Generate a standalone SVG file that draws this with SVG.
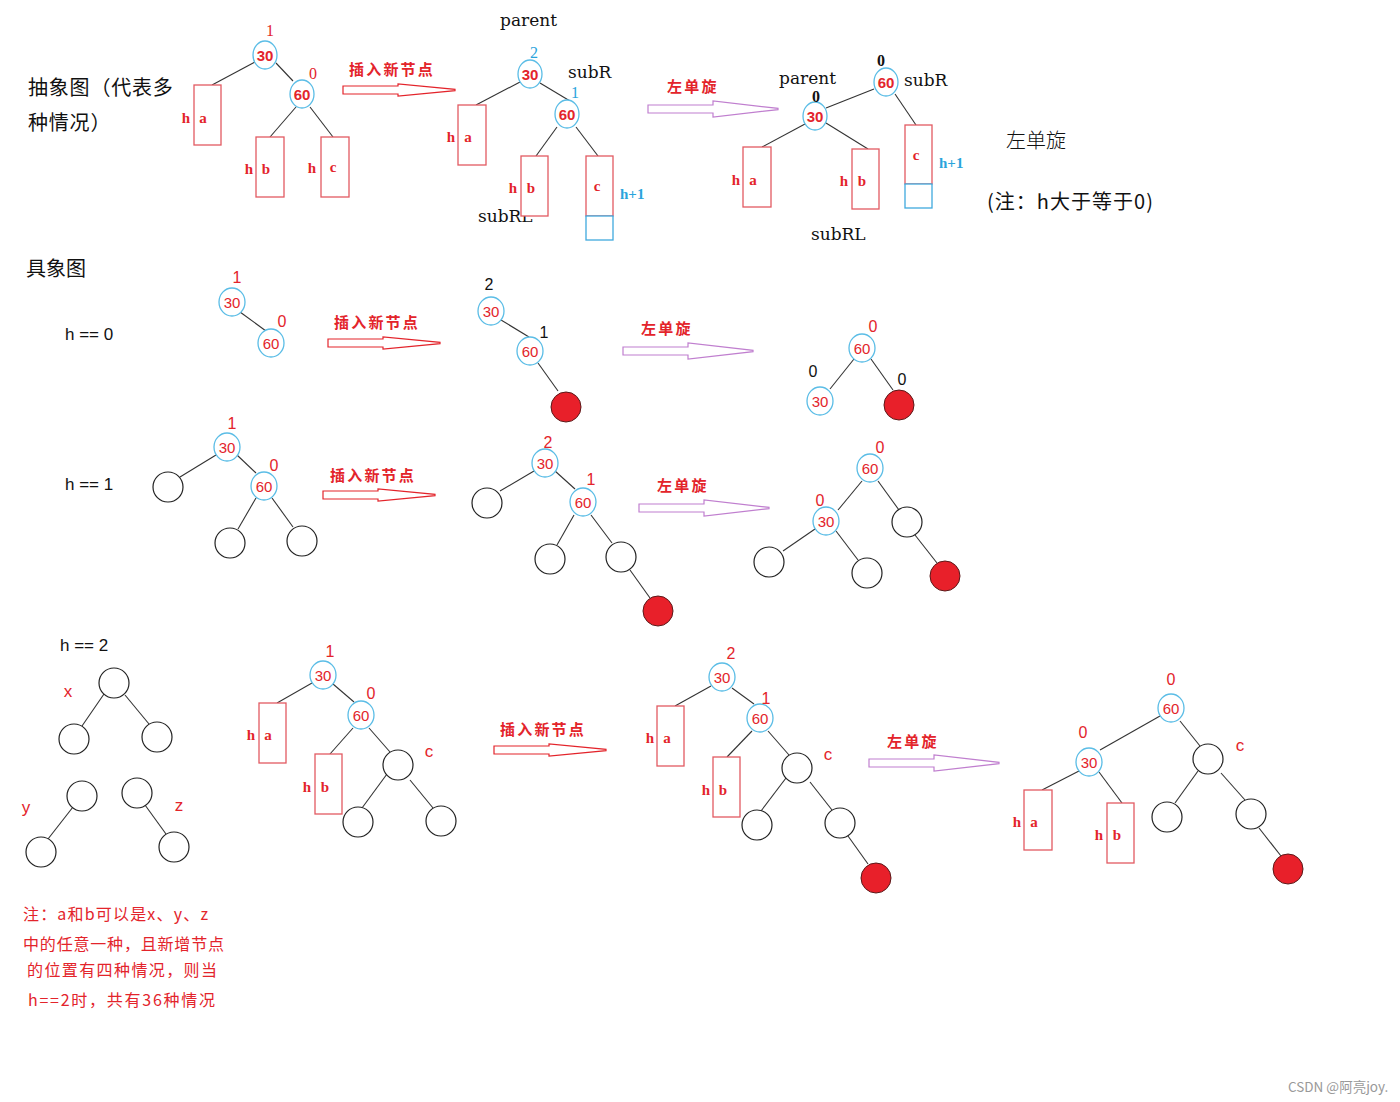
<svg xmlns="http://www.w3.org/2000/svg" width="1400" height="1102" viewBox="0 0 1400 1102">
<style>
.bg{fill:#ffffff}
.ln{stroke:#333;stroke-width:1.1;fill:none}
.bn{fill:#fff;stroke:#5bbde6;stroke-width:1.3}
.pc{fill:#fff;stroke:#222;stroke-width:1.2}
.rc{fill:#e8202a;stroke:#5a1a1a;stroke-width:1}
.bx{fill:#fff;stroke:#e25a62;stroke-width:1.3}
.bbx{fill:#fff;stroke:#3fa9dd;stroke-width:1.3}
.nt{font-family:"Liberation Sans",Arial,sans-serif;font-size:15px;fill:#e3242b;text-anchor:middle;dominant-baseline:central}
.ntb{font-family:"Liberation Sans",Arial,sans-serif;font-size:15px;font-weight:bold;fill:#e3242b;text-anchor:middle;dominant-baseline:central}
.bal{font-family:"Liberation Sans",Arial,sans-serif;font-size:16px;fill:#e3242b;text-anchor:middle;dominant-baseline:central}
.balk{font-family:"Liberation Sans",Arial,sans-serif;font-size:16px;fill:#111;text-anchor:middle;dominant-baseline:central}
.sbal{font-family:"Liberation Serif",serif;font-size:16px;fill:#e3242b;text-anchor:middle;dominant-baseline:central}
.sbalb{font-family:"Liberation Serif",serif;font-size:16px;fill:#2aa4dc;text-anchor:middle;dominant-baseline:central}
.sbalk{font-family:"Liberation Serif",serif;font-size:16px;font-weight:bold;fill:#111;text-anchor:middle;dominant-baseline:central}
.bl{font-family:"Liberation Serif",serif;font-size:15px;font-weight:bold;fill:#e3242b;text-anchor:middle;dominant-baseline:central}
.blb{font-family:"Liberation Serif",serif;font-size:15px;font-weight:bold;fill:#2aa4dc;dominant-baseline:central}
.nm{font-family:"DejaVu Serif","Liberation Serif",serif;font-size:17px;fill:#111}
.cn{font-family:"Noto Sans CJK SC","Noto Sans",sans-serif;font-size:20px;fill:#111}
.cnr{font-family:"Noto Sans CJK SC",sans-serif;font-size:15px;font-weight:bold;fill:#e3242b;letter-spacing:2.2px}
.nt2{font-family:"Noto Sans CJK SC","Liberation Sans",sans-serif;font-size:16px;fill:#e3242b}
.hh{font-family:"Liberation Sans",Arial,sans-serif;font-size:17px;fill:#111}
.lt{font-family:"Liberation Sans",Arial,sans-serif;font-size:17px;fill:#e3242b;text-anchor:middle;dominant-baseline:central}
.ra{fill:#fff;stroke:#e3242b;stroke-width:1.2}
.pa{fill:#fff;stroke:#c07fcf;stroke-width:1.2}
</style>
<defs>
<path id="redArrow" d="M0,-4 L55,-4 L55,-6 L112,-0.6 L112,0.6 L55,6 L55,4 L0,4 Z"/>
<path id="purpleArrow" d="M0,-4 L65,-4 L65,-8 L130,-0.6 L130,0.6 L65,8 L65,4 L0,4 Z"/>
</defs>
<rect class="bg" x="0" y="0" width="1400" height="1102"/>

<!-- ===== Connectors ===== -->
<g id="connectors">
  <line class="ln" x1="255" y1="62" x2="212" y2="85"/>
  <line class="ln" x1="276" y1="63" x2="293" y2="81"/>
  <line class="ln" x1="296" y1="107" x2="270" y2="137"/>
  <line class="ln" x1="310" y1="107" x2="333" y2="137"/>
  <line class="ln" x1="520" y1="82" x2="476" y2="105"/>
  <line class="ln" x1="540" y1="83" x2="570" y2="101"/>
  <line class="ln" x1="557" y1="127" x2="536" y2="156"/>
  <line class="ln" x1="576" y1="127" x2="598" y2="156"/>
  <line class="ln" x1="874" y1="89" x2="826" y2="108"/>
  <line class="ln" x1="805" y1="124" x2="762" y2="147"/>
  <line class="ln" x1="826" y1="123" x2="868" y2="149"/>
  <line class="ln" x1="895" y1="94" x2="916" y2="125"/>
  <line class="ln" x1="240" y1="312" x2="266" y2="331"/>
  <line class="ln" x1="501" y1="320" x2="529" y2="337"/>
  <line class="ln" x1="538" y1="363" x2="558" y2="391"/>
  <line class="ln" x1="854" y1="359" x2="830" y2="389"/>
  <line class="ln" x1="871" y1="359" x2="893" y2="390"/>
  <line class="ln" x1="216" y1="455" x2="180" y2="477"/>
  <line class="ln" x1="237" y1="455" x2="256" y2="473"/>
  <line class="ln" x1="256" y1="498" x2="238" y2="529"/>
  <line class="ln" x1="272" y1="498" x2="293" y2="527"/>
  <line class="ln" x1="534" y1="471" x2="500" y2="491"/>
  <line class="ln" x1="555" y1="471" x2="575" y2="489"/>
  <line class="ln" x1="574" y1="515" x2="557" y2="545"/>
  <line class="ln" x1="591" y1="515" x2="612" y2="543"/>
  <line class="ln" x1="630" y1="570" x2="650" y2="598"/>
  <line class="ln" x1="862" y1="481" x2="838" y2="510"/>
  <line class="ln" x1="878" y1="481" x2="899" y2="510"/>
  <line class="ln" x1="815" y1="529" x2="783" y2="551"/>
  <line class="ln" x1="836" y1="531" x2="858" y2="560"/>
  <line class="ln" x1="915" y1="535" x2="937" y2="563"/>
  <line class="ln" x1="104" y1="694" x2="82" y2="726"/>
  <line class="ln" x1="125" y1="695" x2="149" y2="724"/>
  <line class="ln" x1="73" y1="807" x2="48" y2="839"/>
  <line class="ln" x1="145" y1="805" x2="166" y2="834"/>
  <line class="ln" x1="312" y1="683" x2="277" y2="703"/>
  <line class="ln" x1="333" y1="684" x2="354" y2="702"/>
  <line class="ln" x1="353" y1="728" x2="330" y2="754"/>
  <line class="ln" x1="369" y1="728" x2="390" y2="752"/>
  <line class="ln" x1="387" y1="774" x2="362" y2="808"/>
  <line class="ln" x1="410" y1="780" x2="433" y2="808"/>
  <line class="ln" x1="711" y1="686" x2="675" y2="706"/>
  <line class="ln" x1="732" y1="688" x2="754" y2="704"/>
  <line class="ln" x1="752" y1="731" x2="727" y2="757"/>
  <line class="ln" x1="768" y1="731" x2="789" y2="755"/>
  <line class="ln" x1="786" y1="778" x2="761" y2="811"/>
  <line class="ln" x1="810" y1="782" x2="832" y2="810"/>
  <line class="ln" x1="848" y1="836" x2="868" y2="864"/>
  <line class="ln" x1="1160" y1="716" x2="1100" y2="750"/>
  <line class="ln" x1="1079" y1="771" x2="1042" y2="790"/>
  <line class="ln" x1="1099" y1="772" x2="1122" y2="803"/>
  <line class="ln" x1="1180" y1="721" x2="1200" y2="746"/>
  <line class="ln" x1="1198" y1="771" x2="1175" y2="803"/>
  <line class="ln" x1="1221" y1="773" x2="1245" y2="800"/>
  <line class="ln" x1="1259" y1="828" x2="1281" y2="856"/>
</g>

<!-- ===== Titles / notes ===== -->
<g id="titles">
  <text class="cn" x="28" y="95" style="letter-spacing:0.8px">抽象图（代表多</text>
  <text class="cn" x="28" y="130" style="letter-spacing:0.8px">种情况）</text>
  <text class="cn" x="26" y="276">具象图</text>
  <text class="hh" x="65" y="340">h == 0</text>
  <text class="hh" x="65" y="490">h == 1</text>
  <text class="hh" x="60" y="651">h == 2</text>
  <text x="1006" y="148" style="font-family:'Noto Sans CJK SC',sans-serif;font-size:20px;font-weight:300;fill:#111">左单旋</text>
  <text class="cn" x="987" y="209" textLength="166" lengthAdjust="spacing">(注：h大于等于0)</text>
  <text class="nt2" x="23" y="920" textLength="185" lengthAdjust="spacing">注：a和b可以是x、y、z</text>
  <text class="nt2" x="23" y="950" textLength="201" lengthAdjust="spacing">中的任意一种，且新增节点</text>
  <text class="nt2" x="27" y="976" textLength="190" lengthAdjust="spacing">的位置有四种情况，则当</text>
  <text class="nt2" x="28" y="1006" textLength="187" lengthAdjust="spacing">h==2时，共有36种情况</text>
  <text x="1288" y="1092" style="font-family:'Noto Sans CJK SC',sans-serif;font-size:13.5px;fill:#999">CSDN @阿亮joy.</text>
</g>

<!-- ===== Arrows ===== -->
<g id="arrows">
  <g id="arrow-top-insert"><use href="#redArrow" class="ra" transform="translate(343,90)"/><text class="cnr" x="349" y="75">插入新节点</text></g>
  <g id="arrow-top-rot"><use href="#purpleArrow" class="pa" transform="translate(648,109)"/><text class="cnr" x="667" y="92">左单旋</text></g>
  <g id="arrow-h0-insert"><use href="#redArrow" class="ra" transform="translate(328,343)"/><text class="cnr" x="334" y="328">插入新节点</text></g>
  <g id="arrow-h0-rot"><use href="#purpleArrow" class="pa" transform="translate(623,351)"/><text class="cnr" x="641" y="334">左单旋</text></g>
  <g id="arrow-h1-insert"><use href="#redArrow" class="ra" transform="translate(323,495)"/><text class="cnr" x="330" y="481">插入新节点</text></g>
  <g id="arrow-h1-rot"><use href="#purpleArrow" class="pa" transform="translate(639,508)"/><text class="cnr" x="657" y="491">左单旋</text></g>
  <g id="arrow-h2-insert"><use href="#redArrow" class="ra" transform="translate(494,750)"/><text class="cnr" x="500" y="735">插入新节点</text></g>
  <g id="arrow-h2-rot"><use href="#purpleArrow" class="pa" transform="translate(869,763)"/><text class="cnr" x="887" y="747">左单旋</text></g>
</g>

<!-- ===== Top abstract 1 ===== -->
<g id="abs1">
  <g id="abs1-n30"><ellipse class="bn" cx="265" cy="55" rx="12" ry="14"/><text class="ntb" x="265" y="55">30</text><text class="sbal" x="270" y="30">1</text></g>
  <g id="abs1-n60"><ellipse class="bn" cx="302" cy="94" rx="12" ry="14"/><text class="ntb" x="302" y="94">60</text><text class="sbal" x="313" y="73">0</text></g>
  <g id="abs1-a"><rect class="bx" x="194" y="85" width="27" height="60"/><text class="bl" x="186" y="118">h</text><text class="bl" x="203" y="118">a</text></g>
  <g id="abs1-b"><rect class="bx" x="256" y="137" width="28" height="60"/><text class="bl" x="249" y="169">h</text><text class="bl" x="266" y="169">b</text></g>
  <g id="abs1-c"><rect class="bx" x="321" y="137" width="28" height="60"/><text class="bl" x="312" y="168">h</text><text class="bl" x="333" y="167">c</text></g>
</g>

<!-- ===== Top abstract 2 ===== -->
<g id="abs2">
  <text class="nm" x="500" y="26">parent</text>
  <text class="nm" x="568" y="78">subR</text>
  <text class="nm" x="478" y="222">subRL</text>
  <g id="abs2-n30"><ellipse class="bn" cx="530" cy="74" rx="12" ry="14"/><text class="ntb" x="530" y="74">30</text><text class="sbalb" x="534" y="52">2</text></g>
  <g id="abs2-n60"><ellipse class="bn" cx="567" cy="114" rx="12" ry="14"/><text class="ntb" x="567" y="114">60</text><text class="sbalb" x="575" y="92">1</text></g>
  <g id="abs2-a"><rect class="bx" x="458" y="105" width="28" height="60"/><text class="bl" x="451" y="137">h</text><text class="bl" x="468" y="137">a</text></g>
  <g id="abs2-b"><rect class="bx" x="521" y="156" width="27" height="60"/><text class="bl" x="513" y="188">h</text><text class="bl" x="531" y="188">b</text></g>
  <g id="abs2-c"><rect class="bx" x="586" y="156" width="27" height="60"/><rect class="bbx" x="586" y="216" width="27" height="24"/><text class="bl" x="597" y="186">c</text><text class="blb" x="620" y="194">h+1</text></g>
</g>

<!-- ===== Top abstract 3 ===== -->
<g id="abs3">
  <text class="nm" x="779" y="84">parent</text>
  <text class="nm" x="904" y="86">subR</text>
  <text class="nm" x="811" y="240">subRL</text>
  <g id="abs3-n60"><ellipse class="bn" cx="886" cy="82" rx="12" ry="14"/><text class="ntb" x="886" y="82">60</text><text class="sbalk" x="881" y="60">0</text></g>
  <g id="abs3-n30"><ellipse class="bn" cx="815" cy="116" rx="12" ry="14"/><text class="ntb" x="815" y="116">30</text><text class="sbalk" x="816" y="96">0</text></g>
  <g id="abs3-a"><rect class="bx" x="743" y="147" width="28" height="60"/><text class="bl" x="736" y="180">h</text><text class="bl" x="753" y="180">a</text></g>
  <g id="abs3-b"><rect class="bx" x="852" y="149" width="27" height="60"/><text class="bl" x="844" y="181">h</text><text class="bl" x="862" y="181">b</text></g>
  <g id="abs3-c"><rect class="bx" x="905" y="125" width="27" height="59"/><rect class="bbx" x="905" y="184" width="27" height="24"/><text class="bl" x="916" y="155">c</text><text class="blb" x="939" y="163">h+1</text></g>
</g>

<!-- ===== h == 0 ===== -->
<g id="h0">
  <g id="h0a-n30"><ellipse class="bn" cx="232" cy="302" rx="13" ry="14"/><text class="nt" x="232" y="302">30</text><text class="bal" x="237" y="277">1</text></g>
  <g id="h0a-n60"><ellipse class="bn" cx="271" cy="343" rx="13" ry="14"/><text class="nt" x="271" y="343">60</text><text class="bal" x="282" y="321">0</text></g>
  <g id="h0b-n30"><ellipse class="bn" cx="491" cy="311" rx="13" ry="14"/><text class="nt" x="491" y="311">30</text><text class="balk" x="489" y="284">2</text></g>
  <g id="h0b-n60"><ellipse class="bn" cx="530" cy="351" rx="13" ry="14"/><text class="nt" x="530" y="351">60</text><text class="balk" x="544" y="332">1</text></g>
  <g id="h0b-new"><circle class="rc" cx="566" cy="407" r="15"/></g>
  <g id="h0c-n60"><ellipse class="bn" cx="862" cy="348" rx="13" ry="14"/><text class="nt" x="862" y="348">60</text><text class="bal" x="873" y="326">0</text></g>
  <g id="h0c-n30"><ellipse class="bn" cx="820" cy="401" rx="13" ry="14"/><text class="nt" x="820" y="401">30</text><text class="balk" x="813" y="371">0</text></g>
  <g id="h0c-new"><circle class="rc" cx="899" cy="405" r="15"/><text class="balk" x="902" y="379">0</text></g>
</g>

<!-- ===== h == 1 ===== -->
<g id="h1">
  <g id="h1a-n30"><ellipse class="bn" cx="227" cy="447" rx="13" ry="14"/><text class="nt" x="227" y="447">30</text><text class="bal" x="232" y="423">1</text></g>
  <g id="h1a-n60"><ellipse class="bn" cx="264" cy="486" rx="13" ry="14"/><text class="nt" x="264" y="486">60</text><text class="bal" x="274" y="465">0</text></g>
  <g id="h1a-l"><circle class="pc" cx="168" cy="487" r="15"/></g>
  <g id="h1a-rl"><circle class="pc" cx="230" cy="543" r="15"/></g>
  <g id="h1a-rr"><circle class="pc" cx="302" cy="541" r="15"/></g>
  <g id="h1b-n30"><ellipse class="bn" cx="545" cy="463" rx="13" ry="14"/><text class="nt" x="545" y="463">30</text><text class="bal" x="548" y="442">2</text></g>
  <g id="h1b-n60"><ellipse class="bn" cx="583" cy="502" rx="13" ry="14"/><text class="nt" x="583" y="502">60</text><text class="bal" x="591" y="479">1</text></g>
  <g id="h1b-l"><circle class="pc" cx="487" cy="503" r="15"/></g>
  <g id="h1b-rl"><circle class="pc" cx="550" cy="559" r="15"/></g>
  <g id="h1b-rr"><circle class="pc" cx="621" cy="557" r="15"/></g>
  <g id="h1b-new"><circle class="rc" cx="658" cy="611" r="15"/></g>
  <g id="h1c-n60"><ellipse class="bn" cx="870" cy="468" rx="13" ry="14"/><text class="nt" x="870" y="468">60</text><text class="bal" x="880" y="447">0</text></g>
  <g id="h1c-n30"><ellipse class="bn" cx="826" cy="521" rx="13" ry="14"/><text class="nt" x="826" y="521">30</text><text class="bal" x="820" y="500">0</text></g>
  <g id="h1c-r"><circle class="pc" cx="907" cy="522" r="15"/></g>
  <g id="h1c-ll"><circle class="pc" cx="769" cy="562" r="15"/></g>
  <g id="h1c-lr"><circle class="pc" cx="867" cy="573" r="15"/></g>
  <g id="h1c-new"><circle class="rc" cx="945" cy="576" r="15"/></g>
</g>

<!-- ===== h == 2 subtree samples ===== -->
<g id="h2-samples">
  <g id="x-tree"><text class="lt" x="68" y="691">x</text><circle class="pc" cx="114" cy="683" r="15"/><circle class="pc" cx="74" cy="739" r="15"/><circle class="pc" cx="157" cy="737" r="15"/></g>
  <g id="y-tree"><text class="lt" x="26" y="807">y</text><circle class="pc" cx="82" cy="796" r="15"/><circle class="pc" cx="41" cy="852" r="15"/></g>
  <g id="z-tree"><text class="lt" x="179" y="805">z</text><circle class="pc" cx="137" cy="793" r="15"/><circle class="pc" cx="174" cy="847" r="15"/></g>
</g>

<!-- ===== h == 2 left tree ===== -->
<g id="h2a">
  <g id="h2a-n30"><ellipse class="bn" cx="323" cy="675" rx="13" ry="14"/><text class="nt" x="323" y="675">30</text><text class="bal" x="330" y="651">1</text></g>
  <g id="h2a-n60"><ellipse class="bn" cx="361" cy="715" rx="13" ry="14"/><text class="nt" x="361" y="715">60</text><text class="bal" x="371" y="693">0</text></g>
  <g id="h2a-a"><rect class="bx" x="259" y="703" width="27" height="60"/><text class="bl" x="251" y="735">h</text><text class="bl" x="268" y="735">a</text></g>
  <g id="h2a-b"><rect class="bx" x="315" y="754" width="27" height="60"/><text class="bl" x="307" y="787">h</text><text class="bl" x="325" y="787">b</text></g>
  <g id="h2a-c"><circle class="pc" cx="398" cy="765" r="15"/><text class="lt" x="429" y="751">c</text></g>
  <g id="h2a-cl"><circle class="pc" cx="358" cy="822" r="15"/></g>
  <g id="h2a-cr"><circle class="pc" cx="441" cy="821" r="15"/></g>
</g>

<!-- ===== h == 2 middle tree ===== -->
<g id="h2b">
  <g id="h2b-n30"><ellipse class="bn" cx="722" cy="677" rx="13" ry="14"/><text class="nt" x="722" y="677">30</text><text class="bal" x="731" y="653">2</text></g>
  <g id="h2b-n60"><ellipse class="bn" cx="760" cy="718" rx="13" ry="14"/><text class="nt" x="760" y="718">60</text><text class="bal" x="766" y="698">1</text></g>
  <g id="h2b-a"><rect class="bx" x="657" y="706" width="27" height="60"/><text class="bl" x="650" y="738">h</text><text class="bl" x="667" y="738">a</text></g>
  <g id="h2b-b"><rect class="bx" x="713" y="757" width="27" height="60"/><text class="bl" x="706" y="790">h</text><text class="bl" x="723" y="790">b</text></g>
  <g id="h2b-c"><circle class="pc" cx="797" cy="768" r="15"/><text class="lt" x="828" y="754">c</text></g>
  <g id="h2b-cl"><circle class="pc" cx="757" cy="825" r="15"/></g>
  <g id="h2b-cr"><circle class="pc" cx="840" cy="823" r="15"/></g>
  <g id="h2b-new"><circle class="rc" cx="876" cy="878" r="15"/></g>
</g>

<!-- ===== h == 2 right tree ===== -->
<g id="h2c">
  <g id="h2c-n60"><ellipse class="bn" cx="1171" cy="708" rx="13" ry="14"/><text class="nt" x="1171" y="708">60</text><text class="bal" x="1171" y="679">0</text></g>
  <g id="h2c-n30"><ellipse class="bn" cx="1089" cy="762" rx="13" ry="14"/><text class="nt" x="1089" y="762">30</text><text class="bal" x="1083" y="732">0</text></g>
  <g id="h2c-a"><rect class="bx" x="1024" y="790" width="28" height="60"/><text class="bl" x="1017" y="822">h</text><text class="bl" x="1034" y="822">a</text></g>
  <g id="h2c-b"><rect class="bx" x="1107" y="803" width="27" height="60"/><text class="bl" x="1099" y="835">h</text><text class="bl" x="1117" y="835">b</text></g>
  <g id="h2c-c"><circle class="pc" cx="1208" cy="759" r="15"/><text class="lt" x="1240" y="745">c</text></g>
  <g id="h2c-cl"><circle class="pc" cx="1167" cy="817" r="15"/></g>
  <g id="h2c-cr"><circle class="pc" cx="1251" cy="814" r="15"/></g>
  <g id="h2c-new"><circle class="rc" cx="1288" cy="869" r="15"/></g>
</g>
</svg>
